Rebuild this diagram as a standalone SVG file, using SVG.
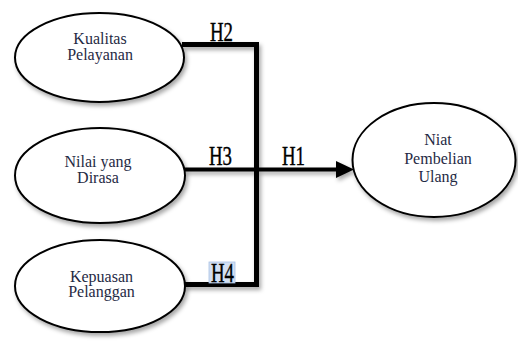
<svg xmlns="http://www.w3.org/2000/svg" width="518" height="343" viewBox="0 0 518 343">
<style>
.node ellipse{fill:#fff;stroke:#000;stroke-width:2;filter:url(#sh)}
.node text{font-size:16px;fill:#1f2a44;text-anchor:middle}
.hl{font-size:27px;fill:#000;stroke:#000;stroke-width:0.4}
.conn line,.conn polyline{stroke:#000;fill:none}
</style>
<defs>
<filter id="sh" x="-20%" y="-20%" width="140%" height="150%">
<feDropShadow dx="2" dy="3" stdDeviation="2" flood-color="#000" flood-opacity="0.35"/>
</filter>
</defs>
<rect width="518" height="343" fill="#fff"/>
<g font-family="'Liberation Serif', 'DejaVu Serif', serif">
<g id="conn" class="conn" filter="url(#sh)">
<polyline points="182,44.5 256.5,44.5 256.5,284.5 184,284.5" stroke-width="5"/>
<line x1="184" y1="169.5" x2="338" y2="169.5" stroke-width="4"/>
<polygon points="336,161 354,169.5 336,178" fill="#000"/>
</g>
<g id="labels">
<text class="hl" x="210" y="41" textLength="23" lengthAdjust="spacingAndGlyphs">H2</text>
<text class="hl" x="209" y="165" textLength="23" lengthAdjust="spacingAndGlyphs">H3</text>
<text class="hl" x="282" y="165" textLength="23" lengthAdjust="spacingAndGlyphs">H1</text>
<rect x="209" y="262" width="26" height="21" fill="#d3e0f3" stroke="#a9c0e4" stroke-width="0.8"/>
<text class="hl" x="211" y="282" textLength="23" lengthAdjust="spacingAndGlyphs">H4</text>
</g>
<g id="kualitas" class="node">
<ellipse cx="99.5" cy="57.5" rx="84.5" ry="44.5"/>
<text x="100" y="44">Kualitas</text>
<text x="100" y="59.5">Pelayanan</text>
</g>
<g id="nilai" class="node">
<ellipse cx="100" cy="175.5" rx="85" ry="47.5"/>
<text x="98" y="167">Nilai yang</text>
<text x="98" y="182.5">Dirasa</text>
</g>
<g id="kepuasan" class="node">
<ellipse cx="100" cy="286" rx="85" ry="46"/>
<text x="101.5" y="281.5">Kepuasan</text>
<text x="101.5" y="297">Pelanggan</text>
</g>
<g id="niat" class="node">
<ellipse cx="434" cy="160" rx="81.5" ry="57"/>
<text x="438" y="145">Niat</text>
<text x="438" y="164">Pembelian</text>
<text x="438" y="182">Ulang</text>
</g>
</g>
</svg>
